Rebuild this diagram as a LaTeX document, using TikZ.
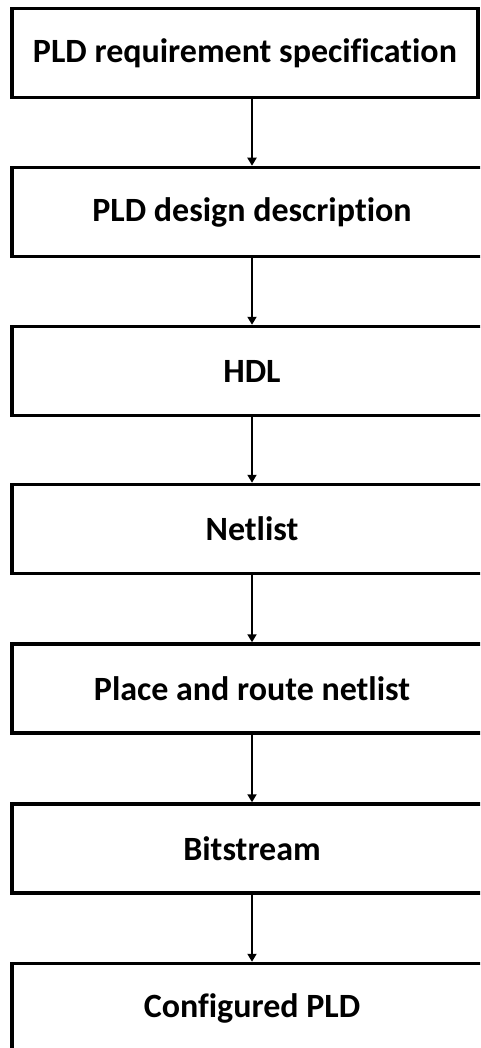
\documentclass[tikz,border=0pt]{standalone}
\usepackage{fontspec}
\setmainfont{Carlito}[Ligatures = NoCommon]
\usetikzlibrary{arrows.meta}
\tikzset{
	stage/.style = {draw, line width = 3.5pt, minimum height = 89pt, minimum width = 480pt, inner sep = 0pt, font = \bfseries\fontsize{34}{40}\selectfont},
	flow/.style = {-{Triangle[width = 9pt, length = 8pt]}, line width = 1.8pt}
}
\begin{document}
\begin{tikzpicture}[x = 1pt, y = -1pt]
	\useasboundingbox (0, 0) rectangle (480, 1048);
	\clip (0, 0) rectangle (480, 1048);
	\node [stage, minimum width = 466pt] (s1) at (245, 53) {PLD requirement specification};
	\foreach \i/\y/\txt in {2/212/PLD design description, 3/371/HDL, 4/529/Netlist, 5/688.5/Place and route netlist, 6/848.5/Bitstream, 7/1008/Configured PLD}{
		\node [stage] (s\i) at (252, \y) {\txt};}
	\draw [flow] (s1.south -| s2) -- (s2);
	\foreach \i [evaluate = \i as \j using int(\i + 1)] in {2,...,6}{
		\draw [flow] (s\i) -- (s\j);}
\end{tikzpicture}
\end{document}
